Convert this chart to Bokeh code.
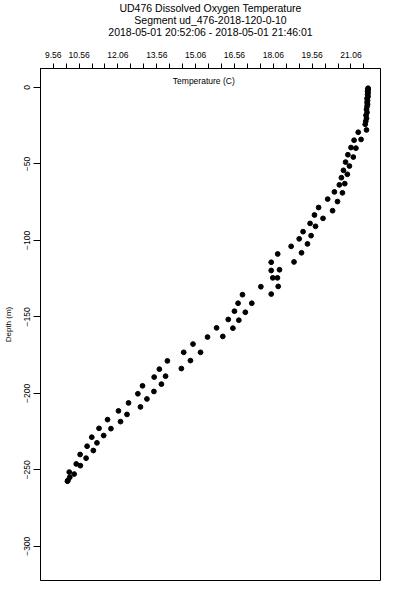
from bokeh.plotting import figure
from bokeh.models import Range1d, FixedTicker, Label, Title
from bokeh.embed import file_html
from bokeh.resources import INLINE

# Temperature (C) and depth (m)
temperature = [
    21.72, 21.72, 21.72, 21.70, 21.72, 21.70, 21.72, 21.68, 21.70, 21.68,
    21.70, 21.68, 21.66, 21.68, 21.64, 21.66, 21.63, 21.61, 21.66,
    21.34, 21.18, 21.45, 21.06, 21.25, 20.94, 21.15, 20.85, 21.00, 20.77,
    20.92, 20.69, 20.82, 20.61, 20.42, 20.73, 20.16, 20.54, 19.81, 20.35,
    19.65, 19.98, 19.48, 19.69, 19.21, 19.52, 19.06, 19.38, 18.75, 19.15,
    18.23, 17.98, 18.86, 17.98, 18.30, 18.04, 18.22, 17.58, 18.25, 16.87,
    17.98, 16.70, 17.23, 16.56, 16.98, 16.32, 16.73, 15.87, 16.50, 15.52,
    16.11, 14.96, 14.60, 15.25, 13.97, 14.86, 13.66, 14.51, 13.46, 13.90,
    13.01, 13.74, 12.83, 13.45, 12.47, 13.18, 12.08, 12.93, 11.66, 12.41,
    11.33, 12.16, 11.05, 11.79, 10.87, 11.51, 10.60, 11.25, 10.45, 11.11,
    10.18, 10.83, 10.61, 10.37, 10.20, 10.13, 10.11,
]
depth = [
    -0.5, -1.0, -1.6, -2.6, -3.6, -4.6, -5.9, -7.2, -8.5, -9.8,
    -11.1, -12.4, -14.3, -16.3, -18.2, -20.2, -22.1, -24.1, -27.8,
    -29.3, -34.5, -34.0, -39.3, -39.7, -44.0, -45.5, -48.8, -51.4, -54.2,
    -56.8, -59.0, -62.9, -63.7, -68.3, -68.9, -73.0, -74.6, -78.5, -80.6,
    -83.4, -85.6, -88.9, -90.8, -94.3, -96.9, -99.0, -102.3, -103.9, -108.1,
    -108.9, -114.3, -114.1, -119.7, -119.2, -124.5, -124.5, -130.3, -130.1, -135.5,
    -135.1, -141.1, -141.1, -146.3, -147.0, -151.7, -152.2, -157.2, -157.4, -163.2,
    -162.8, -167.8, -173.2, -173.2, -178.8, -178.6, -184.2, -183.8, -189.4, -188.8,
    -195.1, -194.0, -200.3, -198.8, -206.3, -203.7, -211.5, -208.9, -217.2, -213.8,
    -222.9, -218.5, -228.7, -223.1, -234.6, -227.6, -240.0, -232.4, -246.2, -237.4,
    -251.5, -242.4, -247.3, -252.8, -254.9, -256.9, -257.5,
]

x_ticks = [9.56, 10.06, 10.56, 11.06, 11.56, 12.06, 12.56, 13.06, 13.56, 14.06,
           14.56, 15.06, 15.56, 16.06, 16.56, 17.06, 17.56, 18.06, 18.56, 19.06,
           19.56, 20.06, 20.56, 21.06, 21.56]
x_tick_labels = {9.56: "9.56", 10.56: "10.56", 12.06: "12.06", 13.56: "13.56",
                 15.06: "15.06", 16.56: "16.56", 18.06: "18.06", 19.56: "19.56",
                 21.06: "21.06"}
y_ticks = [-300, -250, -200, -150, -100, -50, 0]

title_lines = ["UD476 Dissolved Oxygen Temperature",
               "Segment ud_476-2018-120-0-10",
               "2018-05-01 20:52:06 - 2018-05-01 21:46:01"]

FONT = "Liberation Sans"
X0, X1 = 9.07, 22.20
Y0, Y1 = -322.4, 12.4

p = figure(width=384, height=584, output_backend="svg", toolbar_location=None,
           x_range=Range1d(X0, X1), y_range=Range1d(Y0, Y1),
           x_axis_location="above",
           min_border_left=38, min_border_right=4, min_border_top=67,
           min_border_bottom=4)

TITLE_STYLE = dict(align="center", text_font=FONT, text_font_size="10.5px",
                   text_font_style="normal", text_color="black", standoff=-2)

# spacer between the top axis and the title lines
p.add_layout(Title(text=" ", text_font_size="1px", standoff=9), "above")
# title lines stack outward: line 3, line 2, then p.title (line 1) outermost
for line in (title_lines[2], title_lines[1]):
    p.add_layout(Title(text=line, **TITLE_STYLE), "above")
p.title.text = title_lines[0]
for k, v in TITLE_STYLE.items():
    setattr(p.title, k, v)

p.xgrid.visible = False
p.ygrid.visible = False
p.outline_line_color = "black"
p.outline_line_width = 1
p.background_fill_color = "white"
p.border_fill_color = "white"

xa = p.xaxis[0]
xa.ticker = FixedTicker(ticks=x_ticks)
overrides = {t: "" for t in x_ticks}
overrides.update(x_tick_labels)
xa.major_label_overrides = overrides
xa.major_tick_out = 5
xa.major_tick_in = 0
xa.minor_tick_line_color = None
xa.axis_line_color = "black"
xa.major_tick_line_color = "black"
xa.major_label_text_font = FONT
xa.major_label_text_font_size = "8.5px"
xa.major_label_text_color = "black"
xa.major_label_standoff = 6

ya = p.yaxis[0]
ya.ticker = FixedTicker(ticks=y_ticks)
ya.major_label_orientation = "vertical"
ya.major_tick_out = 7
ya.major_tick_in = 0
ya.minor_tick_line_color = None
ya.axis_line_color = "black"
ya.major_tick_line_color = "black"
ya.major_label_text_font = FONT
ya.major_label_text_font_size = "8.5px"
ya.major_label_text_color = "black"
ya.major_label_standoff = 3
ya.axis_label = "Depth (m)"
ya.axis_label_text_font = FONT
ya.axis_label_text_font_size = "8px"
ya.axis_label_text_font_style = "normal"
ya.axis_label_text_color = "black"
ya.axis_label_standoff = 9

p.add_layout(Label(x=15.375, y=3.9, text="Temperature (C)", text_align="center",
                   text_baseline="middle", text_font=FONT, text_font_size="8.5px",
                   text_color="black"))

p.scatter(temperature, depth, marker="circle", size=4.8, color="black")

open("out.html", "w").write(file_html(p, INLINE))
